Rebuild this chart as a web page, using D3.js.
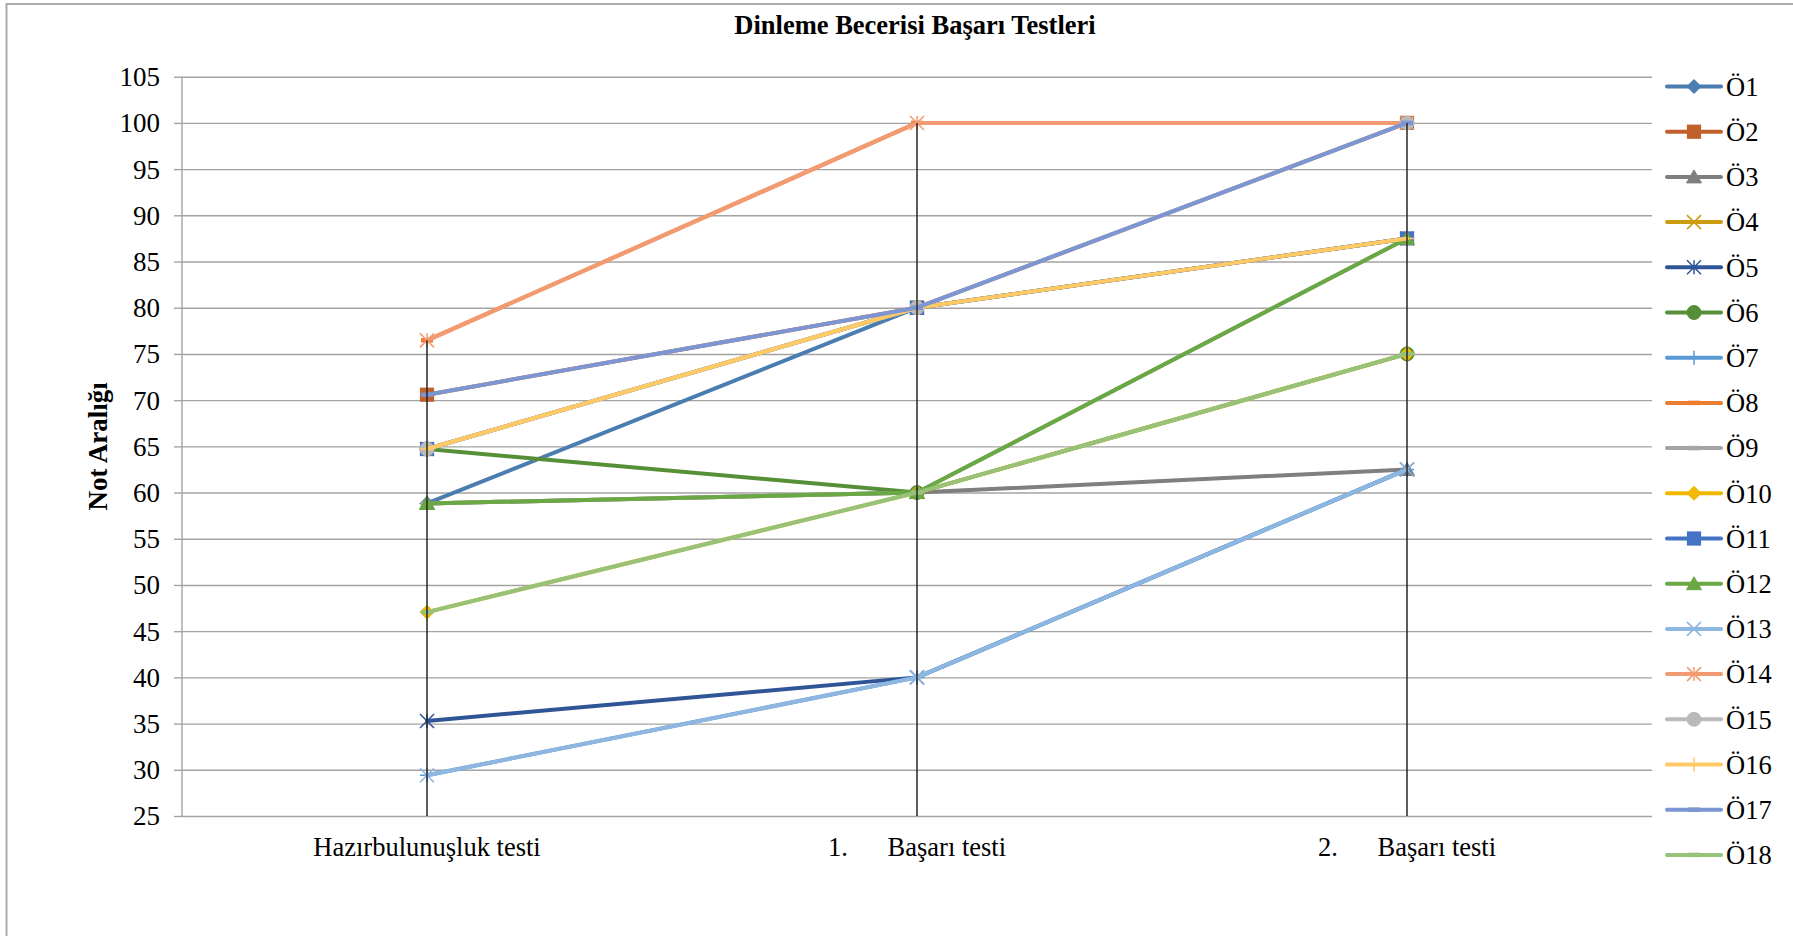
<!DOCTYPE html>
<html lang="tr">
<head>
<meta charset="utf-8">
<title>Dinleme Becerisi Başarı Testleri</title>
<script src="https://cdn.jsdelivr.net/npm/d3@7/dist/d3.min.js"></script>
<style>
  html, body { margin: 0; padding: 0; background: #ffffff; }
  svg { display: block; font-family: "Liberation Serif", "Times New Roman", serif; }
</style>
</head>
<body>
<svg id="chart" width="1793" height="936"></svg>
<script>
// Test names on the category axis
const categories = [
  "Hazırbulunuşluk testi",
  "1.\u00A0\u00A0\u00A0\u00A0\u00A0\u00A0Başarı testi",
  "2.\u00A0\u00A0\u00A0\u00A0\u00A0\u00A0Başarı testi"
];

// Students
const seriesNames = ["Ö1","Ö2","Ö3","Ö4","Ö5","Ö6","Ö7","Ö8","Ö9",
                     "Ö10","Ö11","Ö12","Ö13","Ö14","Ö15","Ö16","Ö17","Ö18"];

// Scores per student: [readiness, 1st test, 2nd test]
const seriesValues = [
  [58.82, 80, 87.5],   // Ö1
  [70.59, 80, 100],    // Ö2
  [58.82, 60, 62.5],   // Ö3
  [64.71, 80, 87.5],   // Ö4
  [35.29, 40, 62.5],   // Ö5
  [64.71, 60, 75],     // Ö6
  [29.41, 40, 62.5],   // Ö7
  [76.47, 100, 100],   // Ö8
  [58.82, 60, 87.5],   // Ö9
  [47.06, 60, 75],     // Ö10
  [64.71, 80, 87.5],   // Ö11
  [58.82, 60, 87.5],   // Ö12
  [29.41, 40, 62.5],   // Ö13
  [76.47, 100, 100],   // Ö14
  [64.71, 80, 100],    // Ö15
  [64.71, 80, 87.5],   // Ö16
  [70.59, 80, 100],    // Ö17
  [47.06, 60, 75]      // Ö18
];

const seriesColors = [
  "#4a7db0", "#c0612b", "#7f7f7f", "#cc9c10", "#2f5597", "#578f38",
  "#5b9bd5", "#ed7d31", "#a5a5a5", "#f2b800", "#4472c4", "#6aa843",
  "#8db6e0", "#f29a72", "#bababa", "#ffca66", "#7c95d3", "#96c27a"
];

const seriesMarkers = [
  "diamond", "square", "triangle", "x", "star", "circle", "plus", "dash", "dash",
  "diamond", "square", "triangle", "x", "star", "circle", "plus", "dash", "dash"
];

const yTickValues = [25, 30, 35, 40, 45, 50, 55, 60, 65, 70, 75, 80, 85, 90, 95, 100, 105];

const chartTitle = "Dinleme Becerisi Başarı Testleri";
const yAxisTitle = "Not Aralığı";

// ---- layout ----
const W = 1793, H = 936;
const plot = { left: 182, right: 1652, top: 76.7, bottom: 816 };
const FONT = 26.5;

const svg = d3.select("#chart");

// outer chart frame
svg.append("rect")
  .attr("x", 6.5).attr("y", 4)
  .attr("width", W + 20).attr("height", H + 20)
  .attr("fill", "#ffffff")
  .attr("stroke", "#ababab")
  .attr("stroke-width", 2);

const x = d3.scalePoint()
  .domain(categories)
  .range([plot.left, plot.right])
  .padding(0.5);

const y = d3.scaleLinear()
  .domain([d3.min(yTickValues), d3.max(yTickValues)])
  .range([plot.bottom, plot.top]);

// horizontal gridlines
const grid = svg.append("g")
  .attr("transform", `translate(${plot.left},0)`)
  .call(d3.axisLeft(y).tickValues(yTickValues).tickSize(-(plot.right - plot.left)).tickFormat(""));
grid.select(".domain").remove();
grid.selectAll(".tick line").attr("stroke", "#a3a3a3").attr("stroke-width", 1.4);

// value axis with outside ticks and labels
const yAxis = svg.append("g")
  .attr("transform", `translate(${plot.left},0)`)
  .call(d3.axisLeft(y).tickValues(yTickValues).tickSize(8).tickPadding(14).tickSizeOuter(0));
yAxis.select(".domain").attr("stroke", "#a3a3a3").attr("stroke-width", 1.4)
  .attr("d", `M0,${plot.bottom}V${plot.top}`);
yAxis.selectAll(".tick line").attr("stroke", "#a3a3a3").attr("stroke-width", 1.4);
yAxis.selectAll(".tick text")
  .attr("font-family", "Liberation Serif, Times New Roman, serif")
  .attr("font-size", 27)
  .attr("fill", "#000")
  .attr("dy", "0.33em");

// category labels
svg.append("g")
  .selectAll("text")
  .data(categories)
  .join("text")
  .attr("x", d => x(d))
  .attr("y", 856)
  .attr("text-anchor", "middle")
  .attr("font-size", FONT)
  .attr("fill", "#000")
  .text(d => d);

// title
svg.append("text")
  .attr("x", 915).attr("y", 34)
  .attr("text-anchor", "middle")
  .attr("font-size", 26.5)
  .attr("font-weight", "bold")
  .attr("fill", "#000")
  .text(chartTitle);

// value axis title
svg.append("text")
  .attr("transform", `translate(107,${(plot.top + plot.bottom) / 2}) rotate(-90)`)
  .attr("text-anchor", "middle")
  .attr("font-size", 27)
  .attr("font-weight", "bold")
  .attr("fill", "#000")
  .text(yAxisTitle);

// ---- marker shapes ----
function drawMarker(g, type, color, cx, cy) {
  const s = 7;
  switch (type) {
    case "diamond":
      g.append("path")
        .attr("d", `M${cx},${cy - s}L${cx + s},${cy}L${cx},${cy + s}L${cx - s},${cy}Z`)
        .attr("fill", color).attr("stroke", color).attr("stroke-width", 1);
      break;
    case "square":
      g.append("rect")
        .attr("x", cx - 6.5).attr("y", cy - 6.5).attr("width", 13).attr("height", 13)
        .attr("fill", color).attr("stroke", color).attr("stroke-width", 1.2);
      break;
    case "triangle":
      g.append("path")
        .attr("d", `M${cx},${cy - 7}L${cx + 7.5},${cy + 6}L${cx - 7.5},${cy + 6}Z`)
        .attr("fill", color).attr("stroke", color).attr("stroke-width", 1);
      break;
    case "circle":
      g.append("circle")
        .attr("cx", cx).attr("cy", cy).attr("r", 7)
        .attr("fill", color).attr("stroke", color).attr("stroke-width", 1);
      break;
    case "x":
      g.append("path")
        .attr("d", `M${cx - s},${cy - s}L${cx + s},${cy + s}M${cx + s},${cy - s}L${cx - s},${cy + s}`)
        .attr("fill", "none").attr("stroke", color).attr("stroke-width", 1.5);
      break;
    case "star":
      g.append("path")
        .attr("d", `M${cx - s},${cy - s}L${cx + s},${cy + s}M${cx + s},${cy - s}L${cx - s},${cy + s}M${cx},${cy - s}L${cx},${cy + s}`)
        .attr("fill", "none").attr("stroke", color).attr("stroke-width", 1.5);
      break;
    case "plus":
      g.append("path")
        .attr("d", `M${cx - s},${cy}L${cx + s},${cy}M${cx},${cy - s}L${cx},${cy + s}`)
        .attr("fill", "none").attr("stroke", color).attr("stroke-width", 1.5);
      break;
    case "dash":
      g.append("path")
        .attr("d", `M${cx - 6},${cy}L${cx + 6},${cy}`)
        .attr("fill", "none").attr("stroke", color).attr("stroke-width", 4.5);
      break;
  }
}

// ---- series ----
const line = d3.line()
  .x((d, i) => x(categories[i]))
  .y(d => y(d));

const seriesG = svg.append("g");
seriesValues.forEach((vals, si) => {
  const g = seriesG.append("g");
  g.append("path")
    .attr("d", line(vals))
    .attr("fill", "none")
    .attr("stroke", seriesColors[si])
    .attr("stroke-width", 4)
    .attr("stroke-linejoin", "round")
    .attr("stroke-linecap", "round");
  vals.forEach((v, i) => drawMarker(g, seriesMarkers[si], seriesColors[si], x(categories[i]), y(v)));
});

// drop lines from the highest score of each test down to the axis
svg.append("g")
  .selectAll("line")
  .data(categories)
  .join("line")
  .attr("x1", d => x(d)).attr("x2", d => x(d))
  .attr("y1", (d, i) => y(d3.max(seriesValues, s => s[i])))
  .attr("y2", plot.bottom)
  .attr("stroke", "#262626")
  .attr("stroke-width", 1.5);

// ---- legend ----
const legend = svg.append("g");
seriesNames.forEach((name, i) => {
  const ly = 86.5 + i * 45.2;
  const g = legend.append("g");
  g.append("line")
    .attr("x1", 1667).attr("x2", 1721)
    .attr("y1", ly).attr("y2", ly)
    .attr("stroke", seriesColors[i])
    .attr("stroke-width", 4)
    .attr("stroke-linecap", "round");
  drawMarker(g, seriesMarkers[i], seriesColors[i], 1694, ly);
  g.append("text")
    .attr("x", 1726).attr("y", ly)
    .attr("dy", "0.35em")
    .attr("font-size", FONT)
    .attr("fill", "#000")
    .text(name);
});
</script>
</body>
</html>
